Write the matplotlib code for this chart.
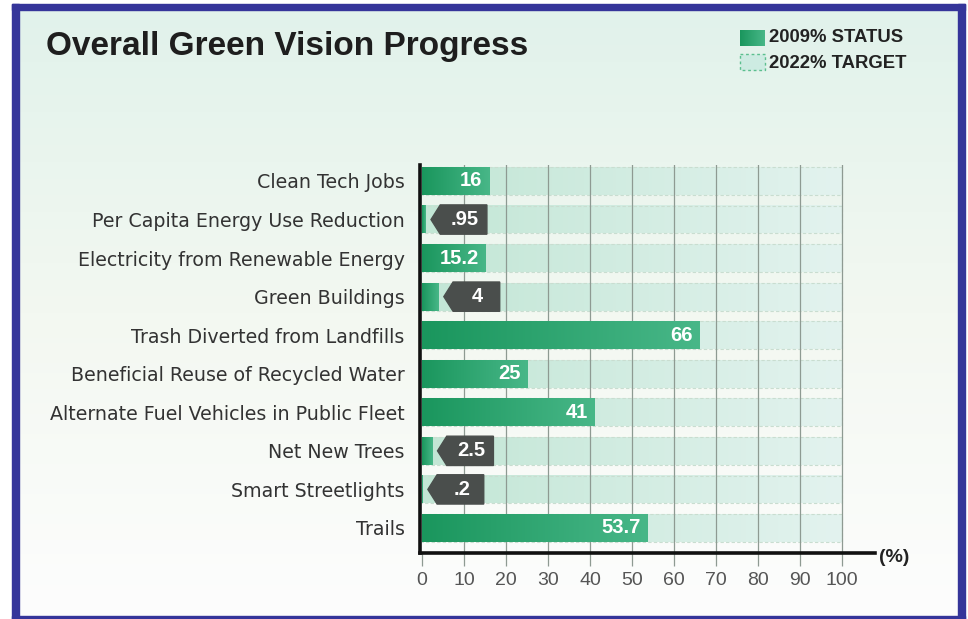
import numpy as np
import matplotlib.pyplot as plt
from matplotlib.colors import LinearSegmentedColormap
from matplotlib.patches import Rectangle, Polygon

plt.rcParams['font.family'] = ['Liberation Sans', 'DejaVu Sans']

categories = [
    "Clean Tech Jobs",
    "Per Capita Energy Use Reduction",
    "Electricity from Renewable Energy",
    "Green Buildings",
    "Trash Diverted from Landfills",
    "Beneficial Reuse of Recycled Water",
    "Alternate Fuel Vehicles in Public Fleet",
    "Net New Trees",
    "Smart Streetlights",
    "Trails",
]
status_2009 = [16, 0.95, 15.2, 4, 66, 25, 41, 2.5, 0.2, 53.7]
value_labels = ["16", ".95", "15.2", "4", "66", "25", "41", "2.5", ".2", "53.7"]
target_2022 = [100] * 10
xticks = list(range(0, 101, 10))

green_cm = LinearSegmentedColormap.from_list("g", ["#1a965d", "#48b788"])
light_cm = LinearSegmentedColormap.from_list("l", ["#c2e6d5", "#e3f3ef"])
bg_cm = LinearSegmentedColormap.from_list("bg", ["#e1f2eb", "#f3f8f1", "#fdfdfd"])
grad = np.linspace(0, 1, 256).reshape(1, -1)

fig = plt.figure(figsize=(9.68, 6.19), dpi=100)

# background, frame, title and legend in pixel coordinates
bg = fig.add_axes([0, 0, 1, 1])
bg.set_xlim(0, 968)
bg.set_ylim(619, 0)
bg.axis("off")
bg.imshow(grad.T, extent=(19, 958, 616, 10), cmap=bg_cm, aspect="auto", zorder=0)
frame = "#35359a"
for r in [(12, 4, 953, 6), (12, 4, 7, 615), (958, 4, 7, 615), (12, 616, 953, 3)]:
    bg.add_patch(Rectangle(r[:2], r[2], r[3], color=frame, zorder=1))

bg.text(46, 47, "Overall Green Vision Progress", fontsize=24, weight="bold",
        color="#1e1e1e", va="center", ha="left")

bg.imshow(grad, extent=(740, 765, 46, 30), cmap=green_cm, aspect="auto", zorder=2)
bg.add_patch(Rectangle((740, 54), 25, 16, facecolor="#cdebe2", edgecolor="#5cbf8f",
                       ls=(0, (2, 2)), lw=1, zorder=2))
bg.text(769, 38, "2009% STATUS", fontsize=13.3, weight="bold", color="#222", va="center")
bg.text(769, 63, "2022% TARGET", fontsize=13.3, weight="bold", color="#222", va="center")
bg.text(879, 557, "(%)", fontsize=14, weight="bold", color="#222", va="center")

# main chart
ax = fig.add_axes([420 / 968, 1 - 553 / 619, (875 - 420) / 968, (553 - 165) / 619])
ax.patch.set_alpha(0)
h = 0.72

for i, (v, t) in enumerate(zip(status_2009, target_2022)):
    ax.imshow(grad, extent=(0, t, i + h / 2, i - h / 2), cmap=light_cm,
              aspect="auto", zorder=1)
    ax.add_patch(Rectangle((0, i - h / 2), t, h, fill=False, edgecolor="#c9ddd0",
                           ls=(0, (3, 2)), lw=0.8, zorder=1.5))
    ax.imshow(grad, extent=(0, v, i + h / 2, i - h / 2), cmap=green_cm,
              aspect="auto", zorder=3)
    if v >= 10:
        ax.text(v - 1.6, i, value_labels[i], ha="right", va="center", color="white",
                weight="bold", fontsize=14.5, zorder=5)
    else:
        tip = v + 1.2
        xb = tip + 2.2
        xr = tip + 13.3
        hh = 0.76
        ax.add_patch(Polygon([(tip, i), (xb, i - hh / 2), (xr, i - hh / 2),
                              (xr, i + hh / 2), (xb, i + hh / 2)],
                             closed=True, color="#4a4e4c", zorder=4))
        ax.text((xb + xr) / 2 + 0.3, i, value_labels[i], ha="center", va="center",
                color="white", weight="bold", fontsize=14.5, zorder=5)

for x in xticks[1:]:
    ax.axvline(x, color="#8e9a92", lw=0.9, zorder=2)

ax.set_xlim(-0.47, 107.8)
ax.set_ylim(9.65, -0.415)
ax.set_xticks(xticks)
ax.set_xticklabels([str(x) for x in xticks], fontsize=14, color="#555")
ax.set_yticks(range(len(categories)))
ax.set_yticklabels(categories, fontsize=13.7, color="#333", family="DejaVu Sans")
ax.tick_params(axis="x", direction="out", length=9, width=0.9, color="#8e9a92", pad=5)
ax.tick_params(axis="y", length=0, pad=11)
for s in ["top", "right"]:
    ax.spines[s].set_visible(False)
for s in ["left", "bottom"]:
    ax.spines[s].set_linewidth(2.6)
    ax.spines[s].set_color("#111")
    ax.spines[s].set_zorder(6)

fig.savefig("out.png", dpi=100)
